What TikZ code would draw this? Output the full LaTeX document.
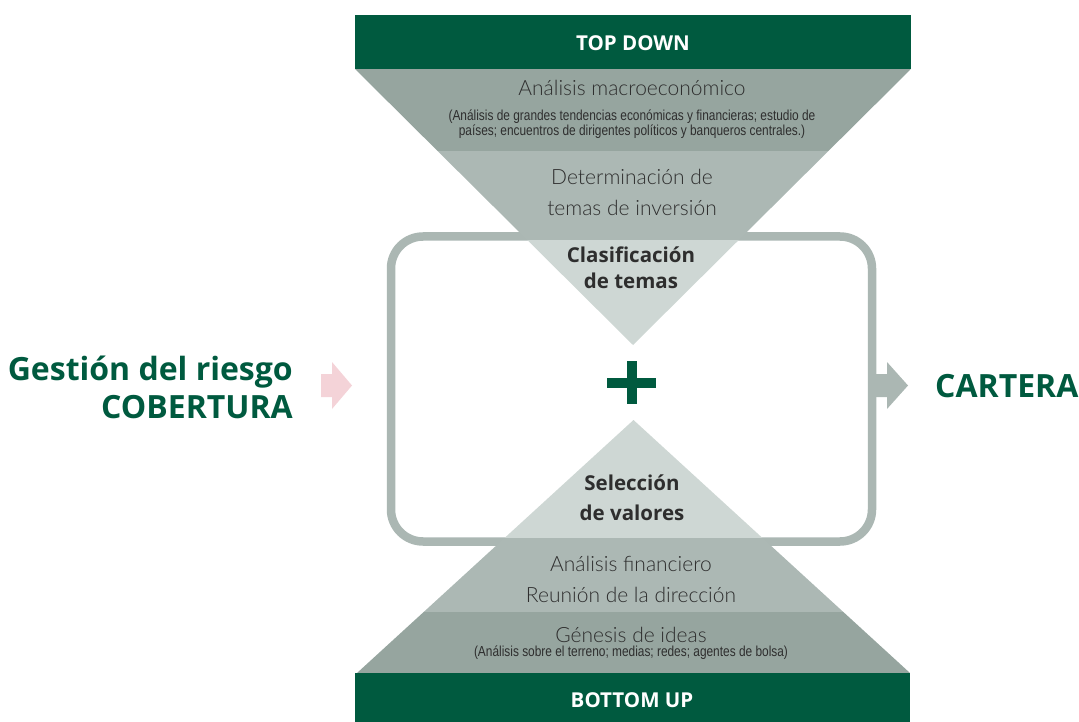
\documentclass[tikz,border=0pt]{standalone}
\usepackage{fontspec}
\setmainfont{Lato Light}
\newfontfamily\bfont{Open Sans}
\newfontfamily\cfont{Liberation Sans}[FakeStretch=0.82]
\definecolor{dkgreen}{HTML}{005A3F}
\definecolor{bandA}{HTML}{96A59F}
\definecolor{bandB}{HTML}{ACB8B4}
\definecolor{bandC}{HTML}{CED7D4}
\definecolor{rectgray}{HTML}{ABB7B3}
\definecolor{pinkarrow}{HTML}{F4D3D8}
\definecolor{txtgray}{HTML}{2E2E2E}
\tikzset{
  bartext/.style={text=white,font=\bfont\bfseries\fontsize{20.5}{24}\selectfont,anchor=base,inner sep=0pt},
  lighttext/.style={text=txtgray,font=\fontsize{21}{30}\selectfont,anchor=base,inner sep=0pt,align=center},
  condtext/.style={text=txtgray,font=\cfont\fontsize{14.5}{15.5}\selectfont,anchor=base,inner sep=0pt,align=center},
  boldtext/.style={text=txtgray,font=\bfont\bfseries\fontsize{20.5}{28}\selectfont,anchor=base,inner sep=0pt,align=center},
  bigtext/.style={text=dkgreen,font=\bfont\bfseries\fontsize{32}{38}\selectfont,anchor=base,inner sep=0pt},
}
\begin{document}
\begin{tikzpicture}[x=1pt,y=-1pt]
\useasboundingbox (0,0) rectangle (1079,722);
% rounded frame
\draw[rectgray,line width=8.5pt,rounded corners=32pt] (391,236.5) rectangle (872,541.5);
% top funnel
\begin{scope}
\clip (355,69) -- (911,69) -- (633,345) -- cycle;
\fill[bandA] (355,68) rectangle (911,151);
\fill[bandB] (355,151) rectangle (911,240);
\fill[bandC] (355,240) rectangle (911,346);
\end{scope}
% bottom pyramid
\begin{scope}
\clip (357,673) -- (910,673) -- (633.5,420) -- cycle;
\fill[bandC] (357,419) rectangle (910,538);
\fill[bandB] (357,538) rectangle (910,612);
\fill[bandA] (357,612) rectangle (910,674);
\end{scope}
% bars
\fill[dkgreen] (355,15) rectangle (911,69);
\fill[dkgreen] (355,673) rectangle (910,722);
% plus sign
\fill[dkgreen] (607,378) rectangle (656,387.5);
\fill[dkgreen] (627,361) rectangle (637,404);
% left pink arrow
\fill[pinkarrow] (321,374) -- (332,374) -- (332,362) -- (352,385.5) -- (332,409) -- (332,397) -- (321,397) -- cycle;
% right gray arrow
\fill[rectgray] (876,374) -- (887,374) -- (887,362) -- (908,385.5) -- (887,409) -- (887,397) -- (876,397) -- cycle;
% texts (multi-line nodes: base = baseline of last line)
\node[bartext] (top) at (633,51) {TOP DOWN};
\node[lighttext] (macro) at (632,96) {Análisis macroeconómico};
\node[condtext] (macro2) at (632,136) {(Análisis de grandes tendencias económicas y financieras; estudio de\\países; encuentros de dirigentes políticos y banqueros centrales.)};
\node[lighttext] (temas) at (632,215) {Determinación de\\temas de inversión};
\node[boldtext,font=\bfont\bfseries\fontsize{20.5}{26}\selectfont] (clas) at (631,288) {Clasificación\\de temas};
\node[boldtext,font=\bfont\bfseries\fontsize{20.5}{30}\selectfont] (sel) at (632,520) {Selección\\de valores};
\node[lighttext,font=\fontsize{21}{31}\selectfont] (fin) at (631,602) {Análisis financiero\\Reunión de la dirección};
\node[lighttext] (gen) at (631,642) {Génesis de ideas};
\node[condtext] (gen2) at (631,656) {(Análisis sobre el terreno; medias; redes; agentes de bolsa)};
\node[bartext] (bot) at (632,707) {BOTTOM UP};
\node[bigtext,anchor=base east] (ges) at (293,380) {Gestión del riesgo};
\node[bigtext,anchor=base east] (cob) at (293,418) {COBERTURA};
\node[bigtext,anchor=base west] (cart) at (935,397) {CARTERA};
\end{tikzpicture}
\end{document}
